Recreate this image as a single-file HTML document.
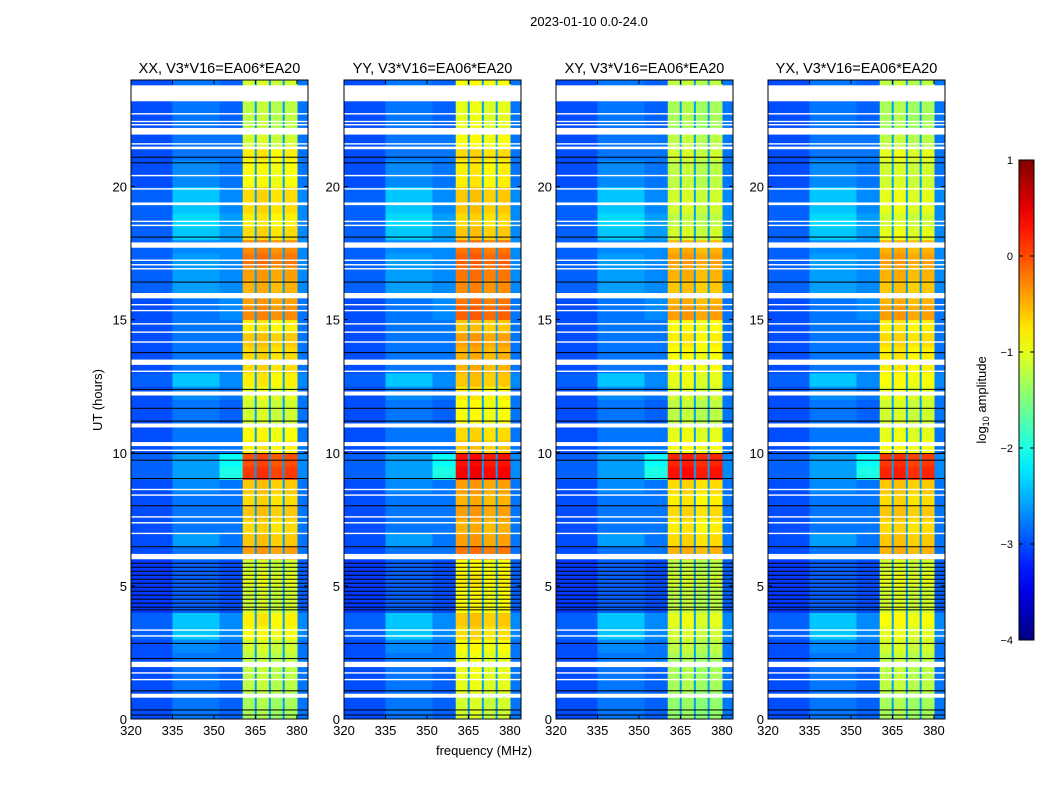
<!DOCTYPE html>
<html><head><meta charset="utf-8">
<style>
body{margin:0;background:#fff;width:1050px;height:800px;overflow:hidden;font-family:"Liberation Sans",sans-serif;}
svg text{font-family:"Liberation Sans",sans-serif;}
</style></head>
<body>
<svg id="chart" width="1050" height="800" xmlns="http://www.w3.org/2000/svg">
<text x="589" y="26" text-anchor="middle" font-size="13">2023-01-10 0.0-24.0</text>
<text x="484" y="755" text-anchor="middle" font-size="13">frequency (MHz)</text>
<text transform="translate(102,400) rotate(-90)" text-anchor="middle" font-size="13">UT (hours)</text>
<g id="panels"></g>
<g id="cbar"></g>
</svg>
<script>
const panelTitles=["XX, V3*V16=EA06*EA20","YY, V3*V16=EA06*EA20","XY, V3*V16=EA06*EA20","YX, V3*V16=EA06*EA20"];
const xTicks=[320,335,350,365,380];
const yTicks=[0,5,10,15,20];
const cbarTicks=[1,0,-1,-2,-3,-4];
// high band (360-380 MHz) log amplitude per 0.5 h row, from 0 h upward
const hiXX=[-1.3,-1.3,-1.2,-1.2,-1.2,-1.1,-0.9,-0.8,-1.1,-1.1,-1.0,-1.1,-0.4,-0.6,-0.7,-0.6,-0.7,-0.6,0.1,0.0,-0.8,-0.9,-1.1,-1.1,-1.0,-0.8,-0.7,-0.7,-0.6,-0.8,-0.3,-0.4,-0.5,-0.4,-0.2,-0.3,-0.7,-0.8,-0.7,-0.7,-0.9,-0.9,-0.8,-1.1,-1.2,-1.2,-1.2,-1.1];
const hiYY=[-1.1,-1.1,-1.0,-1.0,-1.0,-0.9,-0.7,-0.6,-0.9,-0.9,-0.8,-0.9,-0.2,-0.4,-0.5,-0.4,-0.5,-0.4,0.4,0.3,-0.6,-0.7,-0.9,-0.9,-0.8,-0.6,-0.5,-0.5,-0.4,-0.6,-0.1,-0.2,-0.3,-0.2,-0.1,-0.2,-0.6,-0.7,-0.6,-0.6,-0.8,-0.8,-0.7,-0.9,-1.0,-1.0,-1.0,-0.9];
const hiXY=[-1.4,-1.4,-1.3,-1.3,-1.3,-1.2,-1.1,-1.0,-1.2,-1.2,-1.1,-1.2,-0.5,-0.7,-0.8,-0.7,-0.8,-0.7,0.3,0.2,-0.9,-1.0,-1.2,-1.2,-1.1,-1.0,-0.9,-0.9,-0.8,-0.9,-0.4,-0.5,-0.6,-0.5,-0.4,-0.5,-1.1,-1.2,-1.1,-1.1,-1.2,-1.2,-1.1,-1.2,-1.3,-1.3,-1.3,-1.2];
const hiYX=[-1.3,-1.3,-1.2,-1.2,-1.2,-1.1,-1.0,-0.9,-1.1,-1.1,-1.0,-1.1,-0.5,-0.6,-0.7,-0.6,-0.7,-0.6,0.2,0.1,-0.9,-1.0,-1.1,-1.1,-1.0,-0.9,-0.8,-0.8,-0.7,-0.8,-0.4,-0.5,-0.6,-0.5,-0.4,-0.5,-1.0,-1.1,-1.0,-1.0,-1.1,-1.1,-1.0,-1.2,-1.3,-1.3,-1.3,-1.2];
const hiSeries=[hiXX,hiYY,hiXY,hiYX];
// low band background and the 335-352 MHz bump region, per 0.5 h row
const loBand=[-3.0,-3.0,-3.0,-3.0,-3.0,-3.0,-2.9,-2.9,-3.1,-3.1,-3.1,-3.1,-3.0,-3.0,-3.0,-3.0,-3.0,-3.0,-2.9,-2.9,-3.0,-3.0,-3.0,-3.0,-3.0,-2.9,-3.0,-3.0,-3.0,-3.0,-3.0,-3.0,-2.9,-2.9,-2.9,-2.9,-2.9,-2.9,-2.9,-2.9,-3.0,-3.0,-3.0,-3.0,-3.0,-3.0,-3.0,-3.0];
const bumpBand=[-2.8,-2.8,-2.8,-2.8,-2.8,-2.7,-2.4,-2.4,-2.9,-2.9,-2.9,-2.9,-2.8,-2.6,-2.8,-2.8,-2.8,-2.7,-2.6,-2.6,-2.8,-2.8,-2.8,-2.8,-2.7,-2.4,-2.8,-2.8,-2.8,-2.8,-2.8,-2.8,-2.6,-2.6,-2.6,-2.7,-2.4,-2.3,-2.4,-2.4,-2.7,-2.7,-2.8,-2.8,-2.8,-2.8,-2.8,-2.8];
const preBand=[-2.9,-2.9,-2.9,-2.9,-2.8,-2.8,-2.7,-2.7,-3.0,-3.0,-3.0,-3.0,-2.8,-2.8,-2.8,-2.8,-2.8,-2.8,-2.0,-2.1,-2.8,-2.8,-2.9,-2.9,-2.8,-2.7,-2.8,-2.8,-2.8,-2.8,-2.7,-2.7,-2.7,-2.7,-2.7,-2.7,-2.6,-2.6,-2.7,-2.7,-2.8,-2.8,-2.8,-2.8,-2.9,-2.9,-2.9,-2.9];
const subOffsets=[0.0,0.05,-0.05,0.0];
const stripeFreqs=[365.1,370.2,375.2];
const whiteGaps=[[23.2,23.8],[21.95,22.2],[21.4,21.5],[19.3,19.4],[17.7,17.9],[15.8,16.0],[13.3,13.5],[12.15,12.3],[10.95,11.1],[10.25,10.4],[6.0,6.2],[1.95,2.15],[0.8,0.95]];
const whiteLines=[22.73,22.44,22.32,21.6,20.41,19.91,18.69,18.54,17.23,17.06,16.91,15.56,15.34,14.84,14.53,14.16,13.06,10.09,8.62,8.41,7.59,7.37,6.97,3.34,3.12,1.73,1.48];
const blackLines=[21.1,20.89,18.1,16.41,13.76,12.38,11.67,11.19,9.97,9.72,9.03,8.01,6.47,5.85,5.7,5.55,5.4,5.25,5.1,4.95,4.8,4.65,4.5,4.35,4.2,4.1,2.84,2.27,1.06,0.34,0.15];

const NS="http://www.w3.org/2000/svg";
const panelX=[131,344,556,768], PW=177, PY=80, PH=639;
const FMIN=320,FMAX=384,HMAX=24,VMIN=-4,VMAX=1;
function jet(v){let t=(v-VMIN)/(VMAX-VMIN);t=Math.max(0,Math.min(1,t));
 const c=x=>Math.round(255*Math.max(0,Math.min(1,1.5-Math.abs(x))));
 return `rgb(${c(4*t-3)},${c(4*t-2)},${c(4*t-1)})`;}
function mk(tag,attrs,parent){const e=document.createElementNS(NS,tag);for(const k in attrs)e.setAttribute(k,attrs[k]);parent.appendChild(e);return e;}
const root=document.getElementById('panels');
panelTitles.forEach((title,p)=>{
 const x0=panelX[p];
 const xs=f=>x0+(f-FMIN)/(FMAX-FMIN)*PW;
 const ys=h=>PY+(HMAX-h)/HMAX*PH;
 const g=mk('g',{},root);
 
 
 const hi=hiSeries[p];
 for(let i=0;i<hi.length;i++){
  const h0=i*0.5,h1=h0+0.5,y=ys(h1),hh=ys(h0)-ys(h1)+0.5;
  const segs=[[320,335,loBand[i]],[335,352,bumpBand[i]],[352,360.4,preBand[i]],
   [360.4,365.1,hi[i]+subOffsets[0]],[365.1,370.2,hi[i]+subOffsets[1]],[370.2,375.2,hi[i]+subOffsets[2]],[375.2,380.2,hi[i]+subOffsets[3]],[380.2,384,loBand[i]+0.2]];
  segs.forEach(s=>{const r=mk('rect',{x:xs(s[0]),y:y,width:xs(s[1])-xs(s[0])+0.5,height:hh,fill:jet(s[2])},g);
   
   });
 }
 stripeFreqs.forEach(f=>{const r=mk('rect',{x:xs(f)-1,y:PY,width:2,height:PH,fill:jet(-2.6)},g);
  
  });
 blackLines.forEach(h=>{const l=mk('rect',{x:x0,y:ys(h)-0.5,width:PW,height:1,fill:'#000'},g);
  
  });
 whiteLines.forEach(h=>{const l=mk('rect',{x:x0,y:ys(h)-0.7,width:PW,height:1.4,fill:'#fff'},g);
  
  });
 whiteGaps.forEach(gp=>{const l=mk('rect',{x:x0,y:ys(gp[1]),width:PW,height:ys(gp[0])-ys(gp[1]),fill:'#fff'},g);
  
  });
 const fr=mk('rect',{x:x0,y:PY,width:PW,height:PH,fill:'none',stroke:'#000','stroke-width':1},g);
 
 
 const t=mk('text',{x:x0+PW/2,y:PY-7,'text-anchor':'middle','font-size':14.5},g);t.textContent=title;
 
 
 xTicks.forEach(f=>{const X=xs(f);
  mk('line',{x1:X,x2:X,y1:PY+PH,y2:PY+PH-4,stroke:'#000'},g);
  mk('line',{x1:X,x2:X,y1:PY,y2:PY+4,stroke:'#000'},g);
  const tl=mk('text',{x:X,y:PY+PH+16,'text-anchor':'middle','font-size':13},g);tl.textContent=f;
  
  });
 yTicks.forEach(h=>{const Y=ys(h);
  mk('line',{x1:x0,x2:x0+4,y1:Y,y2:Y,stroke:'#000'},g);
  mk('line',{x1:x0+PW,x2:x0+PW-4,y1:Y,y2:Y,stroke:'#000'},g);
  const tl=mk('text',{x:x0-4,y:Y+5,'text-anchor':'end','font-size':13},g);tl.textContent=h;
  
  });
});
// colorbar
const cb=document.getElementById('cbar');
const CX=1019,CW=15,CY=160,CH=480;
const defs=mk('defs',{},cb);
const lg=mk('linearGradient',{id:'jetg',x1:0,y1:1,x2:0,y2:0},defs);
for(let k=0;k<=20;k++){mk('stop',{offset:k/20,'stop-color':jet(VMIN+(VMAX-VMIN)*k/20)},lg);}
mk('rect',{x:CX,y:CY,width:CW,height:CH,fill:'url(#jetg)',stroke:'#000'},cb);
cbarTicks.forEach(v=>{const Y=CY+(VMAX-v)/(VMAX-VMIN)*CH;
 mk('line',{x1:CX,x2:CX+4,y1:Y,y2:Y,stroke:'#000'},cb);
 mk('line',{x1:CX+CW,x2:CX+CW-4,y1:Y,y2:Y,stroke:'#000'},cb);
 const tl=mk('text',{x:CX-6,y:Y+4,'text-anchor':'end','font-size':11},cb);tl.textContent=v<0?'\u2212'+(-v):v;
 
 });
const cl=mk('text',{transform:'translate(986,400) rotate(-90)','text-anchor':'middle','font-size':13},cb);
cl.innerHTML='log<tspan font-size="9" dy="3">10</tspan><tspan dy="-3"> amplitude</tspan>';


</script>
</body></html>
